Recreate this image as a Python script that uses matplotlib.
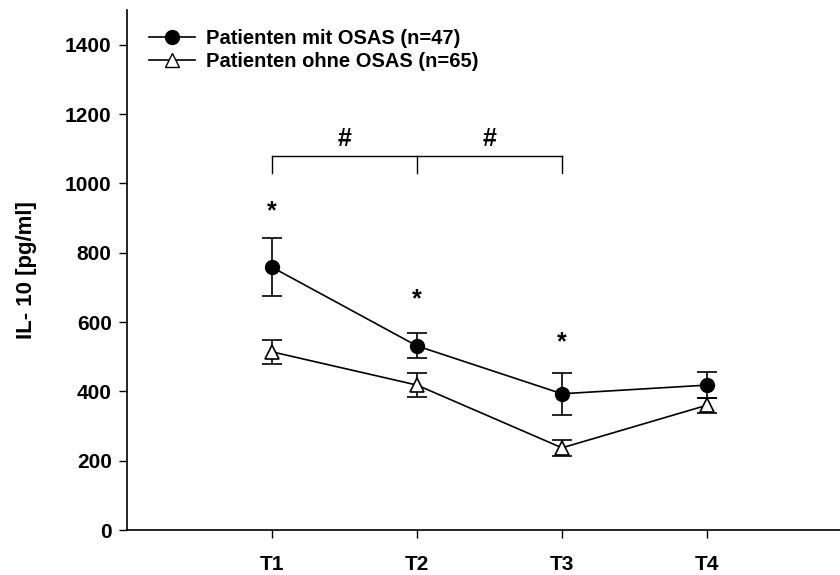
import matplotlib
matplotlib.use("Agg")
import matplotlib.pyplot as plt
from matplotlib.lines import Line2D

plt.rcParams['font.family'] = ['Liberation Sans', 'DejaVu Sans']
plt.rcParams['font.weight'] = 'bold'

timepoints = ["T1", "T2", "T3", "T4"]
osas_mean = [758, 531, 393, 418]
osas_sem = [83, 36, 60, 38]
non_osas_mean = [514, 418, 237, 360]
non_osas_sem = [35, 35, 23, 22]
star_values = [920, 665, 540]
bracket_level = 1080
bracket_drop = 50

fig = plt.figure(figsize=(8.4, 5.75), dpi=100)
ax = fig.add_axes([127 / 840, 1 - 530 / 575, 1 - 127 / 840, (530 - 10) / 575])

x = [1, 2, 3, 4]

ax.errorbar(x, osas_mean, yerr=osas_sem, color='black', marker='o', markersize=10,
            markerfacecolor='black', linewidth=1.2, elinewidth=1.2, capsize=7,
            capthick=1.2, zorder=3)
ax.errorbar(x, non_osas_mean, yerr=non_osas_sem, color='black', marker='^', markersize=10,
            markerfacecolor='white', markeredgewidth=1.2, linewidth=1.2, elinewidth=1.2,
            capsize=7, capthick=1.2, zorder=3)

# significance stars above the OSAS points
for xi, sv in zip(x[:3], star_values):
    ax.text(xi, sv, "*", ha='center', va='center', fontsize=18, fontweight='bold')

# bracket T1-T2-T3 with hash markers
ax.plot([1, 3], [bracket_level, bracket_level], color='black', linewidth=1)
for xi in (1, 2, 3):
    ax.plot([xi, xi], [bracket_level, bracket_level - bracket_drop], color='black', linewidth=1)
for xm in (1.5, 2.5):
    ax.text(xm, bracket_level + 48, "#", ha='center', va='center', fontsize=18, fontweight='bold')

ax.set_xlim(0, 713 / 145)
ax.set_ylim(0, 1500)
ax.set_xticks(x)
ax.set_xticklabels(timepoints)
ax.set_yticks(range(0, 1401, 200))
ax.tick_params(axis='both', direction='out', length=6, width=1, labelsize=15, pad=5)
ax.tick_params(axis='x', pad=12)
for lbl in ax.get_xticklabels() + ax.get_yticklabels():
    lbl.set_fontweight('bold')

ax.spines['top'].set_visible(False)
ax.spines['right'].set_visible(False)
ax.spines['left'].set_linewidth(1.2)
ax.spines['bottom'].set_linewidth(1.2)

ax.set_ylabel("IL- 10 [pg/ml]", fontsize=16, fontweight='bold', labelpad=20)

handles = [
    Line2D([], [], color='black', marker='o', markersize=10, markerfacecolor='black', linewidth=1.2),
    Line2D([], [], color='black', marker='^', markersize=10, markerfacecolor='white', linewidth=1.2),
]
leg = fig.legend(handles, ["Patienten mit OSAS (n=47)", "Patienten ohne OSAS (n=65)"],
                 loc='upper left', bbox_to_anchor=(149 / 840, 1 - 29 / 575),
                 bbox_transform=fig.transFigure, frameon=False, borderpad=0,
                 borderaxespad=0, prop={'weight': 'bold', 'size': 14.5},
                 handlelength=2.3, handletextpad=0.55, labelspacing=0.2)

fig.savefig("out.png", dpi=100)
